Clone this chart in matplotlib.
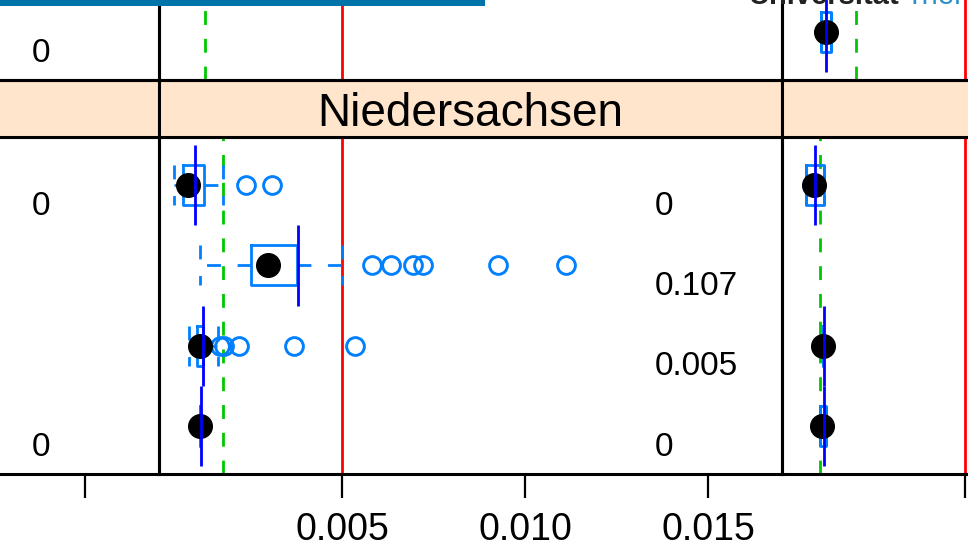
import matplotlib
matplotlib.use("Agg")
import matplotlib.pyplot as plt
from matplotlib.patches import Rectangle
import numpy as np

plt.rcParams['font.family'] = ['Liberation Sans', 'DejaVu Sans']
plt.rcParams['lines.scale_dashes'] = False

# ---------------- data ----------------
strip_label = "Niedersachsen"
rows = [1, 2, 3, 4]                 # row order, top to bottom
x_ticks = [0.005, 0.010, 0.015]
x_ticklabels = ["0.005", "0.010", "0.015"]
x_range = [0.0, 0.017022]
threshold = 0.005                   # red reference line

# lower panel, middle column: box statistics per row
low_mid_whislo = [0.00041, 0.00112, 0.00082, 0.00112]
low_mid_q1     = [0.00066, 0.00251, 0.00104, 0.00112]
low_mid_med    = [0.00079, 0.00298, 0.00112, 0.00112]
low_mid_q3     = [0.00123, 0.00377, 0.00120, 0.00112]
low_mid_whishi = [0.00175, 0.00500, 0.00161, 0.00112]
low_mid_fliers = [[0.00238, 0.00309],
                  [0.00582, 0.00634, 0.00694, 0.00721, 0.00926, 0.01112],
                  [0.00167, 0.00178, 0.00219, 0.00369, 0.00536],
                  []]
low_mid_blue   = [0.00098, 0.00380, 0.00120, 0.00115]
low_mid_green  = 0.00175
low_mid_labels = ["0", "0.107", "0.005", "0"]

# lower panel, right column
low_right_whislo = [0.00066, np.nan, 0.00112, 0.00105]
low_right_q1     = [0.00066, np.nan, 0.00112, 0.00105]
low_right_med    = [0.00087, np.nan, 0.00112, 0.00109]
low_right_q3     = [0.00115, np.nan, 0.00112, 0.00120]
low_right_whishi = [0.00115, np.nan, 0.00112, 0.00120]
low_right_blue   = [0.00090, np.nan, 0.00115, 0.00115]
low_right_green  = 0.00104

# lower panel, left column
low_left_labels = ["0", "", "", "0"]

# upper panel (only its last row is visible)
up_mid_green   = 0.00126
up_right_q1    = [np.nan, np.nan, np.nan, 0.00107]
up_right_med   = [np.nan, np.nan, np.nan, 0.00120]
up_right_q3    = [np.nan, np.nan, np.nan, 0.00134]
up_right_blue  = [np.nan, np.nan, np.nan, 0.00120]
up_right_green = 0.00202
up_left_labels = ["", "", "", "0"]

label_x = 0.01355   # x position of the text column inside each panel

# ---------------- layout ----------------
W, H = 968, 554
fig = plt.figure(figsize=(W / 100, H / 100), dpi=100)

def px_axes(x0, y0, x1, y1, z=1):
    return fig.add_axes([x0 / W, (H - y1) / H, (x1 - x0) / W, (y1 - y0) / H], zorder=z)

col_px = [(-464, 159), (159, 782), (782, 1405)]
low_px = (137, 474)
up_px = (-257, 80)
strip_px = (80, 137)

BOXBLUE = '#0080ff'
GREEN = '#00c800'
LW_FRAME = 2.2
LW = 2.0

dash_w = (0, (10, 12))
dash_g = (0, (10, 10))


def style_panel(ax, ticks=False, labels=False):
    ax.set_xlim(*x_range)
    ax.set_ylim(4.6, 0.4)
    for s in ax.spines.values():
        s.set_linewidth(LW_FRAME)
        s.set_color('black')
    ax.set_yticks([])
    if ticks:
        ax.set_xticks(x_ticks)
        ax.set_xticklabels(x_ticklabels if labels else [''] * len(x_ticks))
        ax.tick_params(axis='x', direction='out', length=17, width=1.6,
                       pad=10.5, labelsize=27, colors='black')
    else:
        ax.set_xticks([])
    ax.patch.set_alpha(0)


def draw_refs(ax, green):
    ax.axvline(threshold, color='red', lw=LW, zorder=1)
    ax.axvline(green, color=GREEN, lw=LW, ls=dash_g, zorder=1)


def draw_boxes(ax, whislo, q1, med, q3, whishi, fliers):
    stats, pos = [], []
    for i, r in enumerate(rows):
        if np.isnan(med[i]):
            continue
        stats.append(dict(med=med[i], q1=q1[i], q3=q3[i], whislo=whislo[i],
                          whishi=whishi[i], fliers=fliers[i]))
        pos.append(r)
    ax.bxp(stats, positions=pos, widths=0.5, capwidths=0.5,
           orientation='horizontal', manage_ticks=False,
           boxprops=dict(color=BOXBLUE, lw=LW),
           whiskerprops=dict(color=BOXBLUE, lw=LW, ls=dash_w),
           capprops=dict(color=BOXBLUE, lw=LW, ls=dash_w),
           medianprops=dict(visible=False),
           flierprops=dict(marker='o', markerfacecolor='none',
                           markeredgecolor=BOXBLUE, markersize=12.8,
                           markeredgewidth=2.1))


def draw_dots_lines(ax, med, blue):
    for i, r in enumerate(rows):
        if not np.isnan(med[i]):
            ax.plot(med[i], r, 'o', color='black', markersize=17, zorder=5)
        if not np.isnan(blue[i]):
            ax.plot([blue[i], blue[i]], [r - 0.5, r + 0.5], color='blue',
                    lw=LW, zorder=6, solid_capstyle='butt')


def draw_labels(ax, labels):
    for i, r in enumerate(rows):
        if labels[i]:
            ax.text(label_x, r + 0.37, labels[i], fontsize=24,
                    ha='left', va='baseline', color='black')


# lower panel
for c, (x0, x1) in enumerate(col_px):
    ax = px_axes(x0, low_px[0], x1, low_px[1])
    style_panel(ax, ticks=True, labels=(c == 1))
    if c == 0:
        draw_refs(ax, low_mid_green)
        draw_labels(ax, low_left_labels)
    elif c == 1:
        draw_refs(ax, low_mid_green)
        draw_boxes(ax, low_mid_whislo, low_mid_q1, low_mid_med, low_mid_q3,
                   low_mid_whishi, low_mid_fliers)
        draw_dots_lines(ax, low_mid_med, low_mid_blue)
        draw_labels(ax, low_mid_labels)
    else:
        draw_refs(ax, low_right_green)
        draw_boxes(ax, low_right_whislo, low_right_q1, low_right_med,
                   low_right_q3, low_right_whishi, [[]] * 4)
        draw_dots_lines(ax, low_right_med, low_right_blue)

    # strip
    sax = px_axes(x0, strip_px[0], x1, strip_px[1])
    sax.set_facecolor('#ffe5cc')
    sax.set_xticks([]); sax.set_yticks([])
    for s in sax.spines.values():
        s.set_linewidth(LW_FRAME)
    if c == 1:
        sax.text(0.5, 0.193, strip_label, transform=sax.transAxes,
                 ha='center', va='baseline', fontsize=33)

# upper panel
for c, (x0, x1) in enumerate(col_px):
    ax = px_axes(x0, up_px[0], x1, up_px[1])
    style_panel(ax, ticks=False)
    if c == 0:
        draw_refs(ax, up_mid_green)
        draw_labels(ax, up_left_labels)
    elif c == 1:
        draw_refs(ax, up_mid_green)
    else:
        draw_refs(ax, up_right_green)
        draw_boxes(ax, up_right_q1, up_right_q1, up_right_med, up_right_q3,
                   up_right_q3, [[]] * 4)
        draw_dots_lines(ax, up_right_med, up_right_blue)

# slide header bar and cut-off logo text
fig.patches.append(Rectangle((0, 1 - 6 / H), 485 / W, 6 / H, transform=fig.transFigure,
                             facecolor='#0073a8', edgecolor='none', zorder=20))
fig.text(748 / W, 1 - 3.5 / H, "Universität", fontsize=21, fontweight='bold',
         color='#222222', ha='left', va='baseline', zorder=20)
fig.text(905 / W, 1 - 3.5 / H, "Trier", fontsize=21,
         color='#2f8fc9', ha='left', va='baseline', zorder=20)

fig.savefig("out.png", dpi=100)
